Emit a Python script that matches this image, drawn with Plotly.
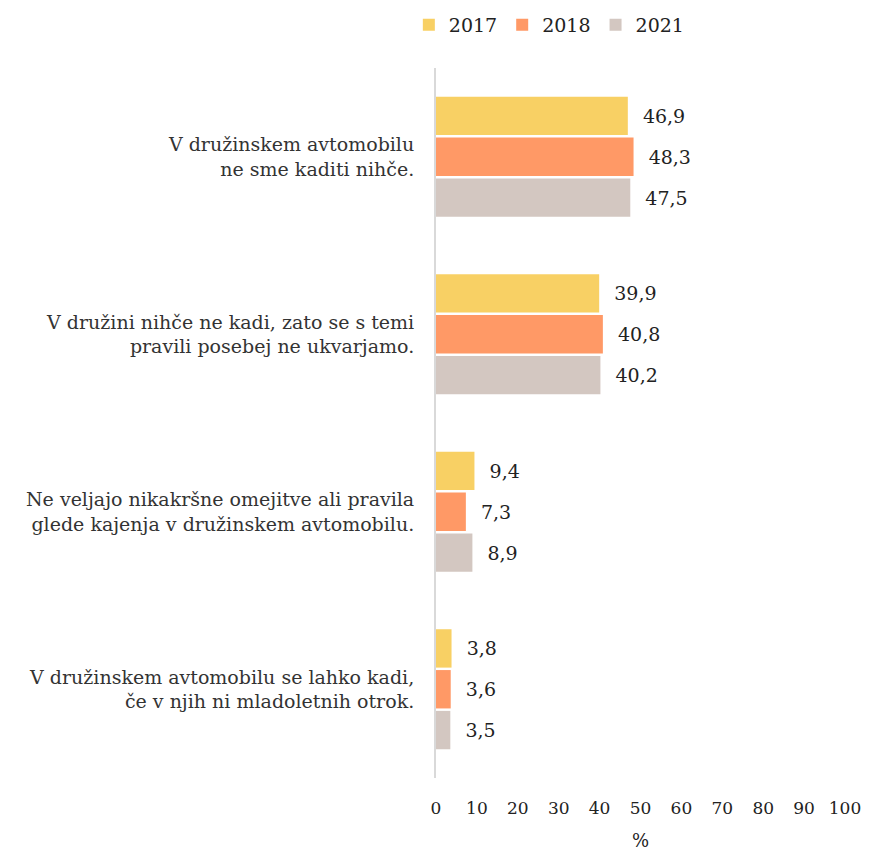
import plotly.graph_objects as go

categories = [
    "V družinskem avtomobilu<br>ne sme kaditi nihče.",
    "V družini nihče ne kadi, zato se s temi<br>pravili posebej ne ukvarjamo.",
    "Ne veljajo nikakršne omejitve ali pravila<br>glede kajenja v družinskem avtomobilu.",
    "V družinskem avtomobilu se lahko kadi,<br>če v njih ni mladoletnih otrok.",
]
years = ["2017", "2018", "2021"]
values_2017 = [46.9, 39.9, 9.4, 3.8]
values_2018 = [48.3, 40.8, 7.3, 3.6]
values_2021 = [47.5, 40.2, 8.9, 3.5]
colors = ["#F8D064", "#FF9966", "#D3C7C1"]
x_ticks = [0, 10, 20, 30, 40, 50, 60, 70, 80, 90, 100]

FONT = "DejaVu Serif"

fig = go.Figure()
for name, vals, col in zip(years, [values_2017, values_2018, values_2021], colors):
    fig.add_trace(go.Bar(
        y=categories, x=vals, name=name, orientation="h",
        marker=dict(color=col, line=dict(width=0)),
        texttemplate="\u00a0\u00a0%{x:.1f}", textposition="outside",
        textfont=dict(family=FONT, size=19, color="#222222"),
        cliponaxis=False,
    ))

fig.update_layout(
    width=862, height=843,
    barmode="group", bargap=0.31, bargroupgap=0.06,
    separators=",.",
    plot_bgcolor="white", paper_bgcolor="white",
    font=dict(family=FONT, size=19, color="#333333"),
    margin=dict(l=428, r=25, t=60, b=73),
    legend=dict(orientation="h", x=0.628, xanchor="center", xref="container",
                y=0.98, yanchor="middle", yref="container",
                font=dict(family=FONT, size=19, color="#222222"),
                traceorder="normal", itemwidth=30),
    xaxis=dict(range=[0, 100], tickvals=x_ticks, showgrid=False, zeroline=False,
               showline=False, ticklabelstandoff=18, automargin=False,
               tickfont=dict(family=FONT, size=17, color="#222222"),
               title=dict(text="%", font=dict(family=FONT, size=18, color="#222222"), standoff=19)),
    yaxis=dict(autorange="reversed", showgrid=False, zeroline=False,
               showline=True, linecolor="#D9D9D9", linewidth=2,
               ticklabelstandoff=16, automargin=False,
               tickfont=dict(family=FONT, size=19, color="#333333")),
)
fig.write_html("out.html")
